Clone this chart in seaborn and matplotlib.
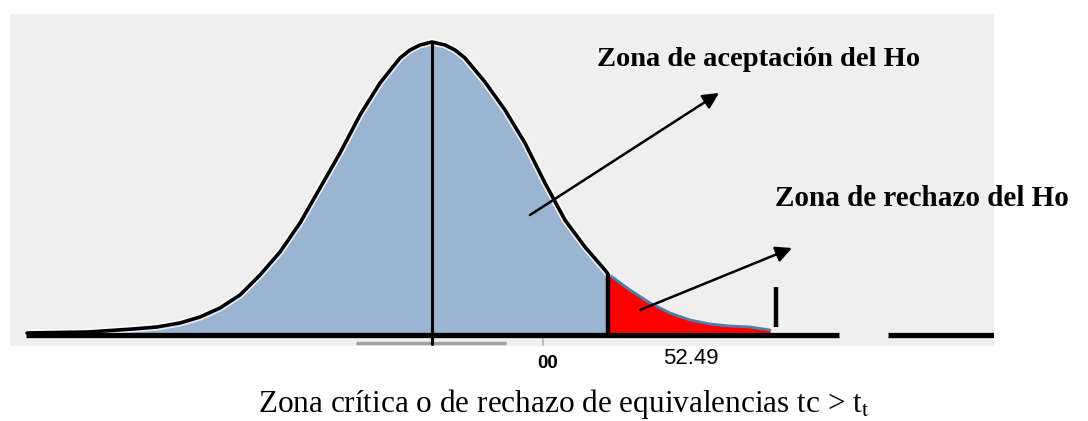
import matplotlib
matplotlib.use("Agg")
import matplotlib.pyplot as plt
import matplotlib.patheffects as pe
import seaborn as sns
import numpy as np

# Curve: t position vs height (baseline = 0)
curve_t = [-4.05, -3.44, -2.99, -2.75, -2.52, -2.32, -2.12, -1.92, -1.72, -1.52,
           -1.32, -1.12, -0.92, -0.72, -0.52, -0.32, -0.22, -0.12, 0.00, 0.13,
           0.23, 0.33, 0.53, 0.73, 0.93, 1.13, 1.33, 1.53, 1.73, 1.76,
           1.98, 2.18, 2.38, 2.58, 2.78, 2.98, 3.18, 3.38]
curve_h = [2, 3, 6, 8, 12, 18, 27, 40, 60, 83,
           112, 147, 182, 220, 252, 277, 285, 290, 293, 290,
           285, 277, 253, 225, 192, 152, 115, 88, 65, 61,
           45, 32, 22, 15, 11, 9, 8, 5]

t_mean = 0.0
t_crit = 1.76
t_end = 3.44
label_center = "00"
label_crit = "52.49"

title_accept = "Zona de aceptación del Ho"
title_reject = "Zona de rechazo del Ho"
caption = r"Zona crítica o de rechazo de equivalencias tc > t$_\mathrm{t}$"

sns.set_style("white")
plt.rcParams["mathtext.fontset"] = "stix"

W, H = 1088, 421
fig = plt.figure(figsize=(W / 100, H / 100), dpi=100)
ax = fig.add_axes([10 / W, 1 - 346 / H, 984 / W, 332 / H])
ax.set_facecolor("#efefef")
ax.set_xlim(-4.22, 5.62)
ax.set_ylim(-11, 321)
for s in ax.spines.values():
    s.set_visible(False)
ax.set_xticks([])
ax.set_yticks([])

t = np.array(curve_t)
h = np.array(curve_h)
acc = t <= t_crit
rej = t >= t_crit

# filled zones
ax.fill_between(t[acc], 0, h[acc], color="#9ab4d2", lw=0, zorder=1)
ax.fill_between(t[rej], 0, h[rej], color="#ff0000", lw=0, zorder=1)
ax.plot(t[rej], h[rej], color="#4f7fa8", lw=2, zorder=2)

# the bell outline
halo = [pe.Stroke(linewidth=5, foreground="white", alpha=0.8), pe.Normal()]
sns.lineplot(x=t[acc], y=h[acc], color="black", lw=2.6, ax=ax, zorder=3,
             sort=False, path_effects=halo)

# axis baseline with a gap
ax.plot([-4.06, 4.07], [0, 0], color="black", lw=3.8, solid_capstyle="butt", zorder=4)
ax.plot([4.56, 5.62], [0, 0], color="black", lw=3.8, solid_capstyle="butt", zorder=4)
ax.plot([-0.76, 0.74], [-8, -8], color="#a0a0a0", lw=2.5, solid_capstyle="butt", zorder=2)
ax.plot([1.11, 1.11], [-4, -10], color="#c0c0c0", lw=1.5, zorder=2)

# vertical markers
ax.plot([t_mean, t_mean], [-9, 293], color="black", lw=2.2, zorder=5)
ax.plot([t_crit, t_crit], [0, 61], color="black", lw=3.2, solid_capstyle="butt", zorder=5)
ax.plot([t_end, t_end], [8, 48], color="black", lw=3.2, solid_capstyle="butt", zorder=5)

# arrows
ax.annotate("", xy=(2.87, 242), xytext=(0.98, 120),
            arrowprops=dict(arrowstyle="-|>", color="black", lw=1.8,
                            mutation_scale=24, shrinkA=0, shrinkB=0), zorder=6)
ax.annotate("", xy=(3.60, 87), xytext=(2.08, 25),
            arrowprops=dict(arrowstyle="-|>", color="black", lw=1.8,
                            mutation_scale=24, shrinkA=0, shrinkB=0), zorder=6)

serif = "Liberation Serif"
ax.text(1.65, 275, title_accept, family=serif, weight="bold", fontsize=20.5,
        color="black", ha="left", va="center", clip_on=False)
ax.text(3.43, 137, title_reject, family=serif, weight="bold", fontsize=21,
        color="black", ha="left", va="center", clip_on=False)

ax.text(1.16, -28, label_center, family="Liberation Sans", weight="bold",
        fontsize=13.5, color="black", ha="center", va="center", clip_on=False)
ax.text(2.59, -24, label_crit, family="Liberation Sans", fontsize=16,
        color="black", ha="center", va="center", clip_on=False)

fig.text(564 / W, 1 - 404 / H, caption, family=serif, fontsize=22.5,
         color="black", ha="center", va="center")

fig.savefig("out.png", dpi=100, facecolor="white")
